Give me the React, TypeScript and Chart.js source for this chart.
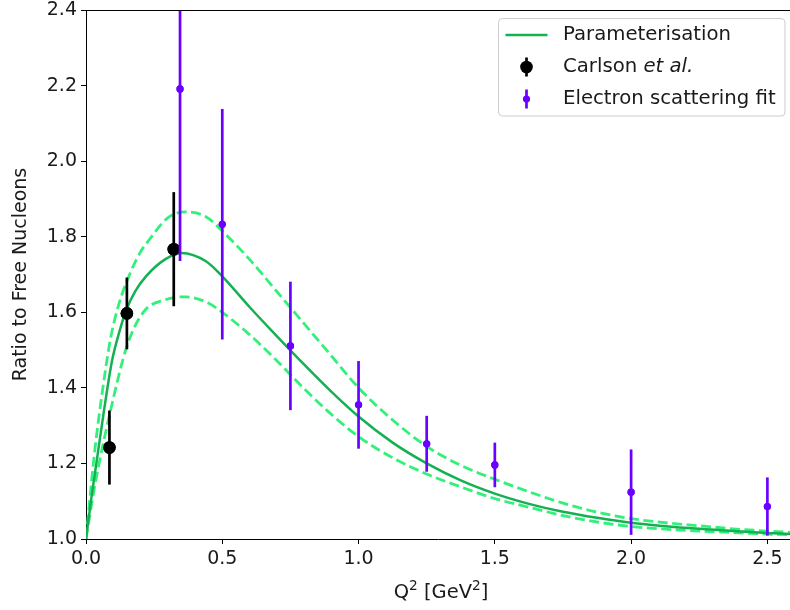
import React, { useEffect, useRef } from 'react';
import { Chart, registerables } from 'chart.js';

Chart.register(...registerables);

// ---- Data ----
const paramQ2 = [0, 0.02, 0.04, 0.064, 0.095, 0.125, 0.15, 0.18, 0.22, 0.29, 0.35, 0.44, 0.5, 0.6, 0.7, 0.8, 0.9, 1.0, 1.125, 1.25, 1.375, 1.5, 1.625, 1.75, 1.875, 2.0, 2.125, 2.25, 2.375, 2.5, 2.6];
const paramCentral = [1.0, 1.11, 1.21, 1.33, 1.47, 1.555, 1.61, 1.655, 1.695, 1.74, 1.757, 1.735, 1.695, 1.614, 1.537, 1.462, 1.39, 1.324, 1.255, 1.2, 1.155, 1.12, 1.093, 1.072, 1.056, 1.043, 1.034, 1.027, 1.021, 1.016, 1.013];

const upperQ2 = [0, 0.03, 0.06, 0.09, 0.12, 0.16, 0.2, 0.23, 0.3, 0.365, 0.44, 0.5, 0.6, 0.7, 0.8, 0.9, 1.0, 1.125, 1.25, 1.375, 1.5, 1.625, 1.75, 1.875, 2.0, 2.125, 2.25, 2.375, 2.5, 2.6];
const paramUpper = [1.0, 1.22, 1.39, 1.53, 1.62, 1.7, 1.76, 1.79, 1.85, 1.866, 1.853, 1.815, 1.74, 1.655, 1.57, 1.485, 1.4, 1.315, 1.245, 1.195, 1.158, 1.125, 1.095, 1.071, 1.054, 1.043, 1.035, 1.027, 1.021, 1.017];

const lowerQ2 = [0, 0.02, 0.04, 0.09, 0.15, 0.21, 0.29, 0.365, 0.45, 0.5, 0.6, 0.7, 0.8, 0.9, 1.0, 1.125, 1.25, 1.375, 1.5, 1.625, 1.75, 1.875, 2.0, 2.125, 2.25, 2.375, 2.5, 2.6];
const paramLower = [1.0, 1.09, 1.17, 1.34, 1.51, 1.6, 1.633, 1.641, 1.624, 1.6, 1.541, 1.472, 1.398, 1.33, 1.271, 1.215, 1.172, 1.138, 1.107, 1.084, 1.062, 1.045, 1.033, 1.026, 1.021, 1.017, 1.013, 1.011];

const carlsonQ2 = [0.086, 0.15, 0.322];
const carlsonRatio = [1.242, 1.597, 1.767];
const carlsonErr = [0.098, 0.095, 0.151];

const electronQ2 = [0.345, 0.5, 0.75, 1.0, 1.25, 1.5, 2.0, 2.5];
const electronRatio = [2.191, 1.833, 1.511, 1.355, 1.252, 1.196, 1.124, 1.086];
const electronErr = [0.455, 0.305, 0.17, 0.116, 0.074, 0.059, 0.113, 0.077];

const xTickValues = [0, 0.5, 1.0, 1.5, 2.0, 2.5];
const yTickValues = [1.0, 1.2, 1.4, 1.6, 1.8, 2.0, 2.2, 2.4];

// x-axis title pieces: [text, isSuperscript]
const xTitleParts: [string, boolean][] = [['Q', false], ['2', true], [' [GeV', false], ['2', true], [']', false]];
const yTitle = 'Ratio to Free Nucleons';
const legendLabels = ['Parameterisation', 'Carlson ', 'et al.', 'Electron scattering fit'];

const X_MIN = 0;
const X_MAX = 2.583;
const Y_MIN = 1.0;
const Y_MAX = 2.4;

const FONT = 'DejaVu Sans';
const FS = 19;
const LEG_FS = 19.7;
const SOLID = '#14b152';
const DASHED = '#33f07a';
const PURPLE = '#6a00ff';
const TEXT = '#1a1a1a';

const zip = (xs: number[], ys: number[]) => xs.map((x, i) => ({ x, y: ys[i] }));

const errorBarPlugin = {
  id: 'errorBars',
  afterDatasetsDraw(chart: any) {
    const { ctx, chartArea, scales } = chart;
    const xs = scales.x;
    const ys = scales.y;
    ctx.save();
    ctx.beginPath();
    ctx.rect(chartArea.left, chartArea.top, chartArea.right - chartArea.left, chartArea.bottom - chartArea.top);
    ctx.clip();
    chart.data.datasets.forEach((ds: any) => {
      if (!ds.errors) return;
      ctx.strokeStyle = ds.errorColor;
      ctx.lineWidth = ds.errorWidth;
      ds.data.forEach((p: any, j: number) => {
        const px = xs.getPixelForValue(p.x);
        ctx.beginPath();
        ctx.moveTo(px, ys.getPixelForValue(p.y - ds.errors[j]));
        ctx.lineTo(px, ys.getPixelForValue(p.y + ds.errors[j]));
        ctx.stroke();
      });
      ctx.fillStyle = ds.backgroundColor;
      ds.data.forEach((p: any) => {
        ctx.beginPath();
        ctx.arc(xs.getPixelForValue(p.x), ys.getPixelForValue(p.y), ds.pointRadius, 0, Math.PI * 2);
        ctx.fill();
      });
    });
    ctx.restore();
  },
};

const framePlugin = {
  id: 'frameAndLegend',
  afterDraw(chart: any) {
    const { ctx, chartArea } = chart;
    ctx.save();
    // top spine
    ctx.strokeStyle = '#000';
    ctx.lineWidth = 1;
    ctx.beginPath();
    ctx.moveTo(chartArea.left, Math.round(chartArea.top) + 0.5);
    ctx.lineTo(chartArea.right, Math.round(chartArea.top) + 0.5);
    ctx.stroke();

    // x-axis title with superscripts
    const main = 19.5;
    const sup = 13.7;
    let total = 0;
    xTitleParts.forEach(([t, s]) => {
      ctx.font = `${s ? sup : main}px "${FONT}"`;
      total += ctx.measureText(t).width;
    });
    let cx = 441 - total / 2;
    const base = 597.5;
    ctx.fillStyle = TEXT;
    ctx.textAlign = 'left';
    ctx.textBaseline = 'alphabetic';
    xTitleParts.forEach(([t, s]) => {
      ctx.font = `${s ? sup : main}px "${FONT}"`;
      ctx.fillText(t, cx, s ? base - 7.5 : base);
      cx += ctx.measureText(t).width;
    });

    // legend
    const bx = chartArea.right - 291.5;
    const by = chartArea.top + 8.5;
    const bw = 286.5;
    const bh = 97.5;
    const r = 4;
    ctx.beginPath();
    ctx.moveTo(bx + r, by);
    ctx.lineTo(bx + bw - r, by);
    ctx.arcTo(bx + bw, by, bx + bw, by + r, r);
    ctx.lineTo(bx + bw, by + bh - r);
    ctx.arcTo(bx + bw, by + bh, bx + bw - r, by + bh, r);
    ctx.lineTo(bx + r, by + bh);
    ctx.arcTo(bx, by + bh, bx, by + bh - r, r);
    ctx.lineTo(bx, by + r);
    ctx.arcTo(bx, by, bx + r, by, r);
    ctx.closePath();
    ctx.fillStyle = 'rgba(255,255,255,0.8)';
    ctx.fill();
    ctx.strokeStyle = '#cccccc';
    ctx.stroke();

    const hx0 = bx + 7;
    const hx1 = bx + 49;
    const hc = (hx0 + hx1) / 2;
    const tx = bx + 64.5;
    const rows = [by + 16.5, by + 48.5, by + 80.5];

    ctx.strokeStyle = SOLID;
    ctx.lineWidth = 2.5;
    ctx.beginPath();
    ctx.moveTo(hx0, rows[0]);
    ctx.lineTo(hx1, rows[0]);
    ctx.stroke();

    ctx.strokeStyle = '#000';
    ctx.lineWidth = 2.7;
    ctx.beginPath();
    ctx.moveTo(hc, rows[1] - 9.5);
    ctx.lineTo(hc, rows[1] + 9.5);
    ctx.stroke();
    ctx.fillStyle = '#000';
    ctx.beginPath();
    ctx.arc(hc, rows[1], 6.3, 0, Math.PI * 2);
    ctx.fill();

    ctx.strokeStyle = PURPLE;
    ctx.beginPath();
    ctx.moveTo(hc, rows[2] - 9.5);
    ctx.lineTo(hc, rows[2] + 9.5);
    ctx.stroke();
    ctx.fillStyle = PURPLE;
    ctx.beginPath();
    ctx.arc(hc, rows[2], 3.6, 0, Math.PI * 2);
    ctx.fill();

    ctx.fillStyle = TEXT;
    ctx.textBaseline = 'middle';
    ctx.textAlign = 'left';
    ctx.font = `${LEG_FS}px "${FONT}"`;
    ctx.fillText(legendLabels[0], tx, rows[0]);
    const w = ctx.measureText(legendLabels[1]).width;
    ctx.fillText(legendLabels[1], tx, rows[1]);
    ctx.font = `italic ${LEG_FS}px "${FONT}"`;
    ctx.fillText(legendLabels[2], tx + w, rows[1]);
    ctx.font = `${LEG_FS}px "${FONT}"`;
    ctx.fillText(legendLabels[3], tx, rows[2]);
    ctx.restore();
  },
};

const zeroPad = (s: any) => {
  s.paddingTop = 0;
  s.paddingBottom = 0;
  s.paddingLeft = 0;
  s.paddingRight = 0;
};

export default function App() {
  const ref = useRef<HTMLCanvasElement | null>(null);

  useEffect(() => {
    if (!ref.current) return;
    const curve = (label: string, xs: number[], ys: number[], dashed: boolean) =>
      ({
        type: 'line',
        label,
        data: zip(xs, ys),
        borderColor: dashed ? DASHED : SOLID,
        borderWidth: dashed ? 2.8 : 2.5,
        borderDash: dashed ? [10, 4.5] : [],
        pointRadius: 0,
        cubicInterpolationMode: 'monotone',
        fill: false,
      } as any);
    const chart = new Chart(ref.current, {
      type: 'scatter',
      data: {
        datasets: [
          curve('Parameterisation', paramQ2, paramCentral, false),
          curve('Upper', upperQ2, paramUpper, true),
          curve('Lower', lowerQ2, paramLower, true),
          {
            label: 'Carlson et al.',
            data: zip(carlsonQ2, carlsonRatio),
            backgroundColor: '#000',
            borderWidth: 0,
            pointRadius: 6.3,
            errors: carlsonErr,
            errorColor: '#000',
            errorWidth: 2.7,
          } as any,
          {
            label: 'Electron scattering fit',
            data: zip(electronQ2, electronRatio),
            backgroundColor: PURPLE,
            borderWidth: 0,
            pointRadius: 3.6,
            errors: electronErr,
            errorColor: PURPLE,
            errorWidth: 2.7,
          } as any,
        ],
      },
      options: {
        animation: false,
        responsive: false,
        layout: { autoPadding: false, padding: { top: 10, left: 0, right: 0, bottom: 0 } },
        plugins: {
          legend: { display: false },
          tooltip: { enabled: false },
        },
        scales: {
          x: {
            type: 'linear',
            min: X_MIN,
            max: X_MAX,
            afterBuildTicks: (s: any) => {
              s.ticks = xTickValues.map((v) => ({ value: v }));
            },
            afterFit: (s: any) => {
              s.height = 71;
              zeroPad(s);
            },
            ticks: {
              callback: (v: any) => Number(v).toFixed(1),
              color: TEXT,
              font: { family: FONT, size: FS },
              padding: 4,
              maxRotation: 0,
              autoSkip: false,
            },
            grid: { drawOnChartArea: false, drawTicks: true, tickLength: 5, color: '#000', tickWidth: 1 },
            border: { display: true, color: '#000', width: 1 },
            title: { display: false },
          },
          y: {
            type: 'linear',
            min: Y_MIN,
            max: Y_MAX,
            afterBuildTicks: (s: any) => {
              s.ticks = yTickValues.map((v) => ({ value: v }));
            },
            afterFit: (s: any) => {
              s.width = 86;
              zeroPad(s);
            },
            ticks: {
              callback: (v: any) => Number(v).toFixed(1),
              color: TEXT,
              font: { family: FONT, size: FS },
              padding: 4,
              autoSkip: false,
            },
            grid: { drawOnChartArea: false, drawTicks: true, tickLength: 5, color: '#000', tickWidth: 1 },
            border: { display: true, color: '#000', width: 1 },
            title: {
              display: true,
              text: yTitle,
              color: TEXT,
              font: { family: FONT, size: FS },
              padding: { top: 9.5, bottom: 0 },
            },
          },
        },
      },
      plugins: [errorBarPlugin, framePlugin],
    });
    return () => chart.destroy();
  }, []);

  return (
    <div style={{ position: 'fixed', left: 0, top: 0, width: 790, height: 610, background: '#fff' }}>
      <canvas ref={ref} width={790} height={610} style={{ width: 790, height: 610, display: 'block' }} />
    </div>
  );
}
